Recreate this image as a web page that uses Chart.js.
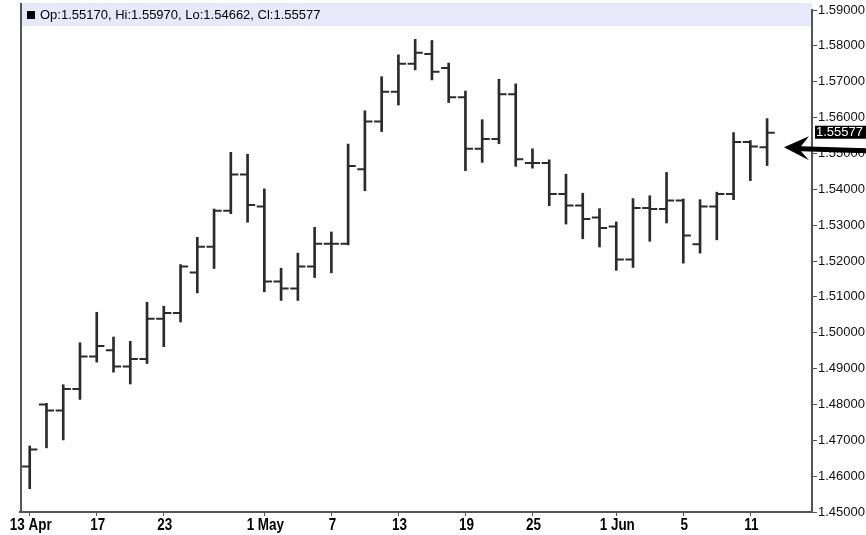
<!DOCTYPE html>
<html>
<head>
<meta charset="utf-8">
<script src="https://cdn.jsdelivr.net/npm/chart.js@4.4.1/dist/chart.umd.min.js"></script>
<style>
  html, body { margin: 0; padding: 0; background: #fff; }
</style>
</head>
<body>
<canvas id="fxChart" width="866" height="535"></canvas>
<script>
// daily bars, 13 Apr - 12 Jun (weekdays)
const opens  = [1.4627, 1.4800, 1.4783, 1.4843, 1.4934, 1.4951, 1.4906, 1.4927, 1.5039, 1.5055,
                1.5168, 1.5240, 1.5340, 1.5441, 1.5352, 1.5143, 1.5123, 1.5185, 1.5248, 1.5248,
                1.5456, 1.5589, 1.5672, 1.5750, 1.5777, 1.5738, 1.5657, 1.5513, 1.5540, 1.5665,
                1.5473, 1.5473, 1.5387, 1.5355, 1.5321, 1.5296, 1.5204, 1.5348, 1.5345, 1.5369,
                1.5247, 1.5352, 1.5387, 1.5532, 1.55170];
const highs  = [1.4684, 1.4803, 1.4855, 1.4972, 1.5057, 1.4988, 1.4976, 1.5085, 1.5074, 1.5190,
                1.5266, 1.5345, 1.5503, 1.5498, 1.5401, 1.5180, 1.5222, 1.5294, 1.5281, 1.5526,
                1.5619, 1.5714, 1.5775, 1.5818, 1.5815, 1.5752, 1.5674, 1.5594, 1.5707, 1.5694,
                1.5513, 1.5482, 1.5442, 1.5389, 1.5346, 1.5309, 1.5374, 1.5382, 1.5447, 1.5373,
                1.5371, 1.5392, 1.5558, 1.5536, 1.55970];
const lows   = [1.4565, 1.4679, 1.4701, 1.4814, 1.4918, 1.4890, 1.4857, 1.4914, 1.4961, 1.5030,
                1.5111, 1.5179, 1.5332, 1.5308, 1.5114, 1.5090, 1.5090, 1.5154, 1.5167, 1.5245,
                1.5396, 1.5561, 1.5635, 1.5733, 1.5705, 1.5642, 1.5452, 1.5475, 1.5527, 1.5464,
                1.5459, 1.5354, 1.5303, 1.5262, 1.5239, 1.5174, 1.5182, 1.5255, 1.5306, 1.5194,
                1.5222, 1.5259, 1.5371, 1.5424, 1.54662];
const closes = [1.4674, 1.4783, 1.4843, 1.4934, 1.4963, 1.4906, 1.4927, 1.5039, 1.5055, 1.5185,
                1.5240, 1.5340, 1.5441, 1.5356, 1.5143, 1.5123, 1.5185, 1.5248, 1.5248, 1.5465,
                1.5589, 1.5672, 1.5750, 1.5781, 1.5728, 1.5657, 1.5513, 1.5540, 1.5665, 1.5484,
                1.5473, 1.5387, 1.5355, 1.5317, 1.5292, 1.5204, 1.5348, 1.5345, 1.5369, 1.5271,
                1.5352, 1.5387, 1.5532, 1.5519, 1.55577];

const xTickIndex  = [0, 4, 8, 14, 18, 22, 26, 30, 35, 39, 43];
const xTickLabels = ['13 Apr', '17', '23', '1 May', '7', '13', '19', '25', '1 Jun', '5', '11'];
const yTicks = [1.45, 1.46, 1.47, 1.48, 1.49, 1.50, 1.51, 1.52, 1.53, 1.54, 1.55, 1.56, 1.57, 1.58, 1.59];

const barColor = '#2b2b2b';
const tickLen = 7.6;

const ohlcPlugin = {
  id: 'ohlc',
  beforeDraw(chart) {
    const { ctx, chartArea: a } = chart;
    ctx.save();
    ctx.fillStyle = '#e8e8fa';
    ctx.fillRect(a.left, 3, a.right - a.left, 23);
    ctx.restore();
  },
  afterDatasetsDraw(chart) {
    const { ctx, scales: { x, y } } = chart;
    ctx.save();
    ctx.strokeStyle = barColor;
    ctx.lineWidth = 2;
    opens.forEach((o, i) => {
      const px = x.getPixelForValue(i);
      const yo = y.getPixelForValue(o);
      const yc = y.getPixelForValue(closes[i]);
      ctx.beginPath();
      ctx.moveTo(px - tickLen, yo);
      ctx.lineTo(px, yo);
      ctx.moveTo(px, yc);
      ctx.lineTo(px + tickLen, yc);
      ctx.stroke();
    });
    ctx.restore();
  },
  afterDraw(chart) {
    const { ctx, chartArea: a, scales: { x, y } } = chart;
    const last = opens.length - 1;
    ctx.save();

    // left frame line
    ctx.strokeStyle = '#555';
    ctx.lineWidth = 2;
    ctx.beginPath();
    ctx.moveTo(a.left + 1, 3);
    ctx.lineTo(a.left + 1, a.bottom);
    ctx.stroke();

    // x labels, condensed bold
    ctx.fillStyle = '#000';
    ctx.font = 'bold 16px "Liberation Sans", Arial, sans-serif';
    ctx.textAlign = 'center';
    ctx.textBaseline = 'alphabetic';
    xTickIndex.forEach((v, i) => {
      ctx.save();
      ctx.translate(x.getPixelForValue(v) + 1, a.bottom + 18);
      ctx.scale(0.84, 1);
      ctx.fillText(xTickLabels[i], 0, 0);
      ctx.restore();
    });

    // header text
    ctx.textAlign = 'left';
    ctx.textBaseline = 'middle';
    ctx.fillRect(a.left + 7, 11, 8, 8);
    ctx.font = '13px "Liberation Sans", Arial, sans-serif';
    ctx.fillText(`Op:${opens[last].toFixed(5)}, Hi:${highs[last].toFixed(5)}, Lo:${lows[last].toFixed(5)}, Cl:${closes[last].toFixed(5)}`, a.left + 20, 15);

    // last price box
    const yc = y.getPixelForValue(closes[last]);
    ctx.fillStyle = '#000';
    ctx.fillRect(a.right + 3, yc - 7, 866 - a.right - 3, 13);
    ctx.fillStyle = '#fff';
    ctx.fillText(closes[last].toFixed(5), a.right + 4, yc);

    // arrow pointing at the last open
    const ya = y.getPixelForValue(opens[last]);
    const tip = a.right - 28;
    ctx.fillStyle = '#000';
    ctx.beginPath();
    ctx.moveTo(tip, ya);
    ctx.lineTo(tip + 25, ya - 11);
    ctx.lineTo(tip + 17, ya - 1);
    ctx.lineTo(866, ya + 1);
    ctx.lineTo(866, ya + 6);
    ctx.lineTo(tip + 17, ya + 4);
    ctx.lineTo(tip + 25, ya + 13);
    ctx.closePath();
    ctx.fill();
    ctx.restore();
  }
};

const ctx = document.getElementById('fxChart').getContext('2d');

new Chart(ctx, {
  type: 'bar',
  data: {
    datasets: [{
      data: opens.map((_, i) => ({ x: i, y: [lows[i], highs[i]] })),
      backgroundColor: barColor,
      barThickness: 2,
      borderWidth: 0
    }]
  },
  options: {
    responsive: false,
    animation: false,
    layout: { padding: { top: 10, left: 20, right: 0, bottom: 0 } },
    plugins: {
      legend: { display: false },
      tooltip: { enabled: false }
    },
    scales: {
      x: {
        type: 'linear',
        offset: false,
        min: -0.58,
        max: 46.68,
        afterBuildTicks: s => { s.ticks = xTickIndex.map(v => ({ value: v })); },
        afterFit: s => { s.height = 23; },
        ticks: { display: false },
        grid: { drawOnChartArea: false, tickLength: 4, tickColor: '#555', offset: false },
        border: { color: '#555', width: 2 }
      },
      y: {
        position: 'right',
        min: 1.45,
        max: 1.59,
        afterBuildTicks: s => { s.ticks = yTicks.map(v => ({ value: v })); },
        afterFit: s => { s.width = 54; },
        ticks: {
          callback: v => v.toFixed(5),
          padding: 1,
          color: '#111',
          font: { family: '"Liberation Sans", Arial', size: 13 }
        },
        grid: { drawOnChartArea: false, tickLength: 5, tickColor: '#555' },
        border: { color: '#555', width: 2 }
      }
    }
  },
  plugins: [ohlcPlugin]
});
</script>
</body>
</html>
